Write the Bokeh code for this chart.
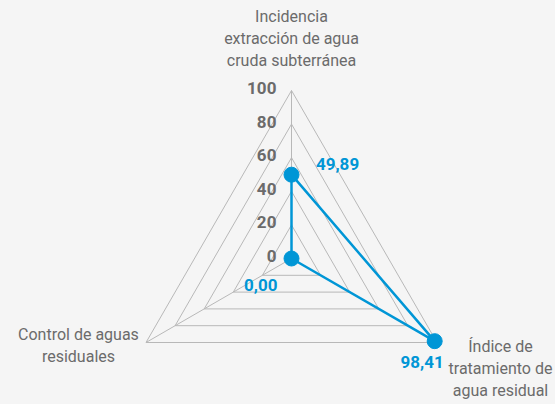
import numpy as np
from bokeh.plotting import figure
from bokeh.models import Range1d
from bokeh.core.properties import value
from bokeh.embed import file_html
from bokeh.resources import INLINE

categories = ["Incidencia\nextracción de agua\ncruda subterránea",
              "Índice de\ntratamiento de\nagua residual",
              "Control de aguas\nresiduales"]
values = [49.89, 98.41, 0.00]
value_labels = ["49,89", "98,41", "0,00"]
ticks = [0, 20, 40, 60, 80, 100]
tick_labels = ["0", "20", "40", "60", "80", "100"]

FONT = "Roboto"
GRAY = "#6b6b6b"
BLUE = "#0096d6"
BG = "#f5f5f5"

W, H = 555, 404
scale = 1.68  # px per unit
cx, cy = 291, 258
p = figure(width=W, height=H, output_backend="svg", toolbar_location=None,
           x_range=Range1d(-cx / scale, (W - cx) / scale),
           y_range=Range1d(-(H - cy) / scale, cy / scale),
           min_border=0, background_fill_color=BG, border_fill_color=BG)
p.axis.visible = False
p.grid.visible = False
p.outline_line_color = None

angles = np.deg2rad([90, -30, 210])

# grid triangles
for t in ticks[1:]:
    xs = [t * np.cos(a) for a in angles] + [t * np.cos(angles[0])]
    ys = [t * np.sin(a) for a in angles] + [t * np.sin(angles[0])]
    p.line(xs, ys, line_color="#b8b8b8", line_width=1)
# spokes
for a in angles:
    p.line([0, 100 * np.cos(a)], [0, 100 * np.sin(a)], line_color="#b8b8b8", line_width=1)

# tick labels
p.text(x=[-9] * len(ticks), y=[t + 1.5 for t in ticks], text=tick_labels,
       text_font=value(FONT), text_font_style="bold", text_font_size="17px",
       text_color=GRAY, text_align="right", text_baseline="middle")

# data
vx = [v * np.cos(a) for v, a in zip(values, angles)]
vy = [v * np.sin(a) for v, a in zip(values, angles)]
p.line(vx + [vx[0]], vy + [vy[0]], line_color=BLUE, line_width=2.5)
p.scatter(vx, vy, size=15, color=BLUE)

# value labels
lx = [vx[0] + 27.4, vx[1] + 5.4, vx[2] - 8.3]
ly = [vy[0] + 6.5, vy[1] - 12.5, vy[2] - 15.5]
p.text(x=lx, y=ly, text=value_labels, text_font=value(FONT), text_font_style="bold",
       text_font_size="17px", text_color=BLUE, text_align=["center", "right", "right"],
       text_baseline="middle")

# category labels
p.text(x=[0, 124.4, -126.8], y=[131, -65.5, -51.8], text=categories, text_font=value(FONT),
       text_font_size="16px", text_color=GRAY, text_align="center",
       text_baseline="middle", text_line_height=1.17)

html = file_html(p, INLINE)
html = html.replace("<body>", '<body style="background:%s">' % BG)
open("out.html", "w").write(html)
